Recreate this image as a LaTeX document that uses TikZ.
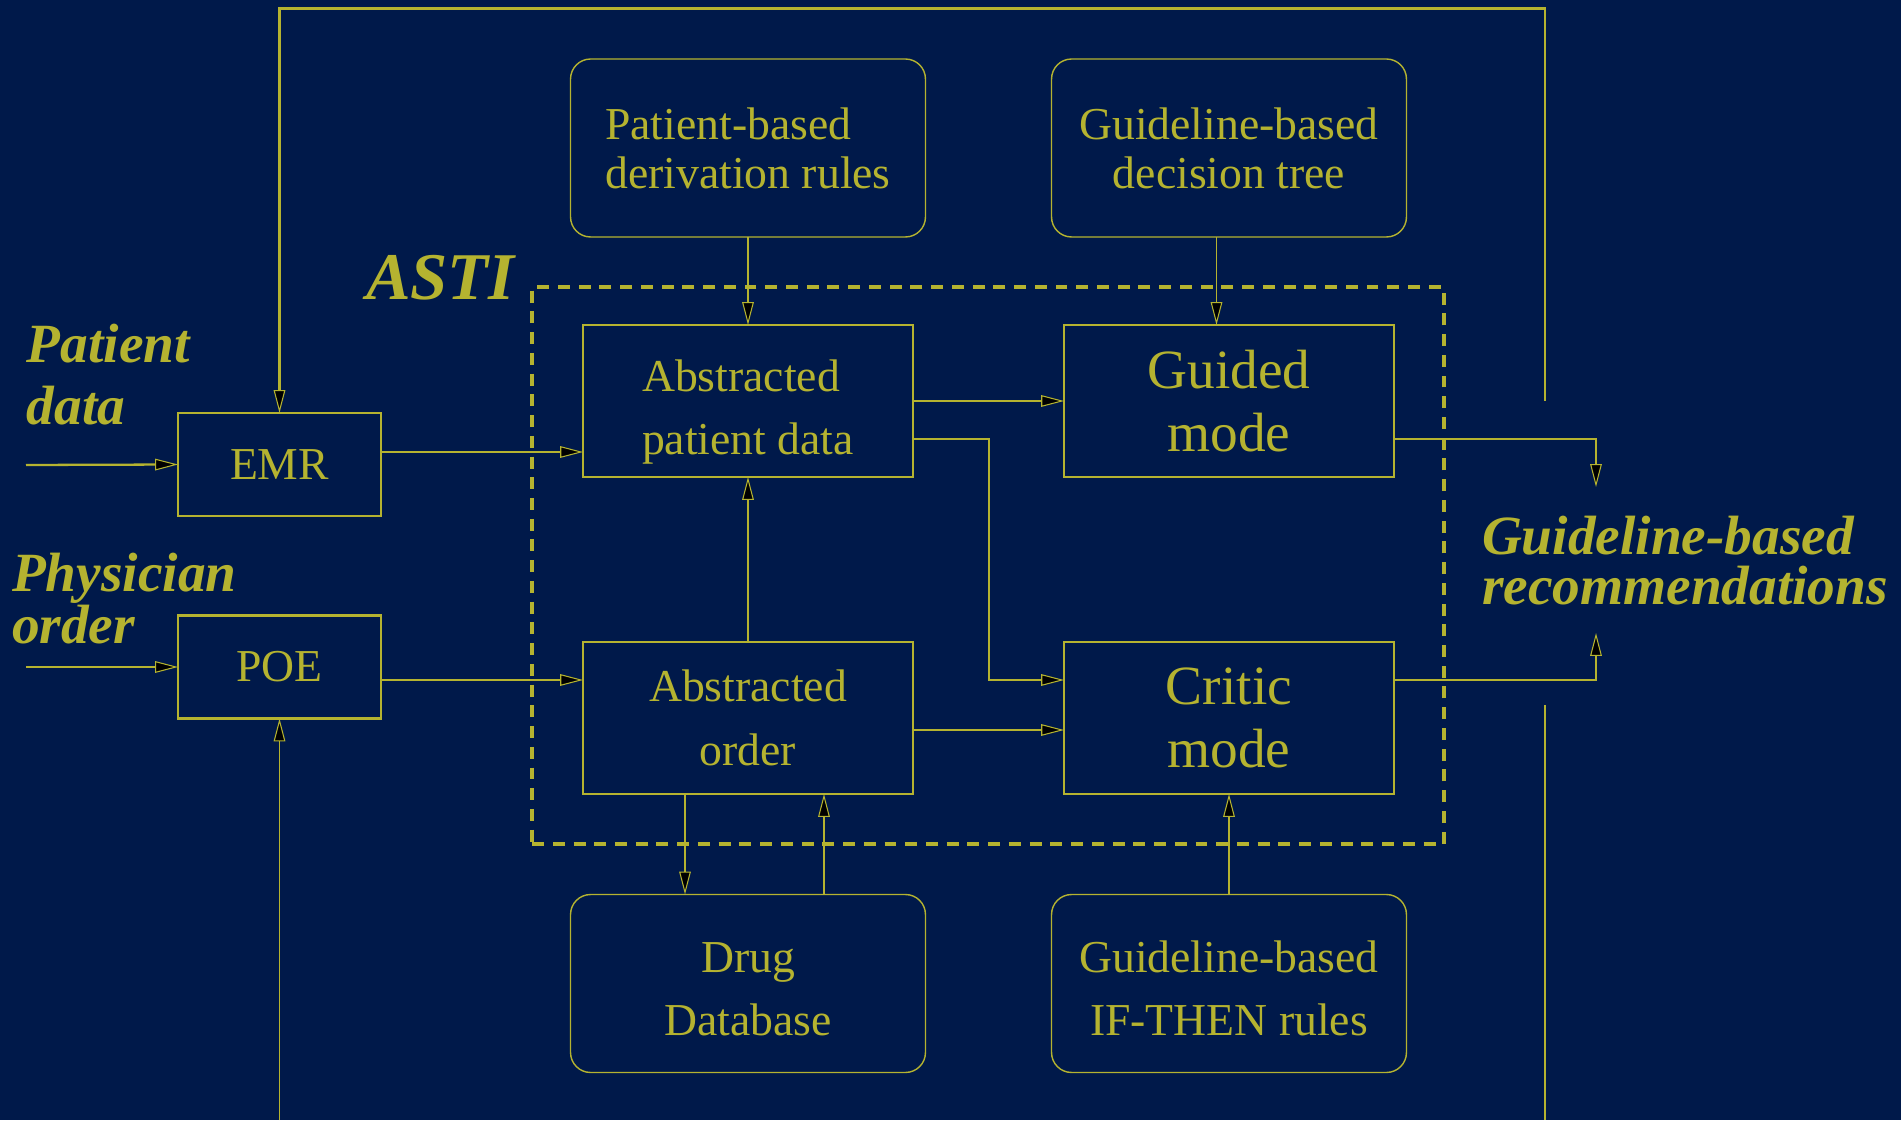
\documentclass[tikz,border=0pt]{standalone}
\usepackage{fontspec}
\setmainfont{Liberation Serif}
\usetikzlibrary{positioning, calc, arrows.meta}
\definecolor{bgnavy}{RGB}{0,25,74}
\definecolor{astiyellow}{RGB}{181,179,48}
\newcommand{\toppad}[1]{\rule{0pt}{#1}}

\begin{document}
\begin{tikzpicture}[x=0.02cm, y=-0.02cm,
    every node/.style={text=astiyellow, outer sep=0pt},
    block/.style={draw=astiyellow, line width=0.8pt, minimum width=6.6cm, minimum height=3.04cm, align=center, font=\fontsize{26}{36}\selectfont},
    modebox/.style={block, font=\fontsize{31.5}{36}\selectfont},
    srcbox/.style={draw=astiyellow, line width=0.8pt, rounded corners=0.4cm, minimum width=7.1cm, minimum height=3.56cm, align=center, font=\fontsize{26}{28}\selectfont},
    iobox/.style={draw=astiyellow, line width=1.5pt, minimum width=4.06cm, minimum height=2.06cm, font=\fontsize{26}{30}\selectfont},
    lbl/.style={font=\fontsize{31.5}{28.5}\selectfont\bfseries\itshape, align=left, inner sep=0pt, anchor=south west},
    link/.style={draw=astiyellow, line width=1.3pt, -{Triangle[length=13pt, width=6.6pt, line width=0.6pt, fill=black]}},
    thinlink/.style={link, line width=0.9pt},
    ]
    % Background
    \fill[bgnavy] (0,0) rectangle (1901,1120);
    % ASTI frame
    \node[draw=astiyellow, line width=2.3pt, dash pattern=on 6.8pt off 5pt, minimum width=18.24cm, minimum height=11.14cm] (asti) at (988,565.5) {};
    \node[lbl, font=\fontsize{38}{40}\selectfont\bfseries\itshape] (astilbl) at (366,300) {ASTI};
    % Knowledge sources
    \node[srcbox, align=left] (rules) at (748,148) {Patient-based\\derivation rules};
    \node[srcbox] (tree) at (1229,148) {Guideline-based\\decision tree};
    \node[srcbox, font=\fontsize{26}{36}\selectfont] (drugdb) at (748,983.5) {\toppad{24pt}Drug\\Database};
    \node[srcbox, font=\fontsize{26}{36}\selectfont] (ifthen) at (1229,983.5) {\toppad{24pt}Guideline-based\\IF-THEN rules};
    % Blocks inside ASTI
    \node[block, align=left] (apd) at (748,401) {\toppad{31pt}Abstracted\\patient data};
    \node[modebox] (guided) at (1229,401) {Guided\\mode};
    \node[block] (ao) at (748,718) {Abstracted\\order};
    \node[modebox] (critic) at (1229,718) {Critic\\mode};
    % Inputs and outputs
    \node[iobox] (emr) at (279.5,464.5) {EMR};
    \node[iobox] (poe) at (279.5,667) {POE};
    \node[lbl, font=\fontsize{31.5}{35.3}\selectfont\bfseries\itshape] (patlbl) at (27,425) {Patient\\data};
    \node[lbl] (ordlbl) at (12,644) {Physician\\order};
    \node[lbl] (recs) at (1482,605) {Guideline-based\\recommendations};

    \coordinate (patin) at (26,465);
    \coordinate (ordin) at (26,667);
    \coordinate (fbA) at (1545,401);
    \coordinate (fbB) at (1545,8.5);
    \coordinate (fbC) at (1545,705);
    \coordinate (fbD) at (1545,1120);
    \coordinate (poein) at (279.5,1120);
    \coordinate (recT) at (1596,487);
    \coordinate (recB) at (1596,633);

    % Feedback loop
    \draw[link] (fbA) -- (fbB) -| (emr.north);
    \draw[draw=astiyellow, line width=1.3pt] (fbC) -- (fbD);
    \draw[thinlink] (poein) -- (poe.south);
    % Inputs
    \draw[link] (patin) -- (emr.west);
    \draw[link] (ordin) -- (poe.west);
    \draw[link] ([yshift=0.25cm]emr.east) -- ([yshift=0.25cm]emr.east -| apd.west);
    \draw[link] ([yshift=-0.26cm]poe.east) -- ([yshift=-0.26cm]poe.east -| ao.west);
    % Knowledge into ASTI
    \draw[thinlink] (rules.south) -- (apd.north);
    \draw[thinlink] ([xshift=-0.25cm]tree.south) -- ([xshift=-0.25cm]tree.south |- guided.north);
    \draw[thinlink] ([xshift=-1.26cm]ao.south) -- ([xshift=-1.26cm]ao.south |- drugdb.north);
    \draw[thinlink] ([xshift=1.52cm]drugdb.north) -- ([xshift=1.52cm]drugdb.north |- ao.south);
    \draw[thinlink] (ifthen.north) -- (critic.south);
    % Inside ASTI
    \draw[link] (apd.east) -- (guided.west);
    \draw[link] ([yshift=-0.76cm]apd.east) -- ++(76,0) |- ([yshift=0.76cm]critic.west);
    \draw[link] ([yshift=-0.24cm]ao.east) -- ([yshift=-0.24cm]critic.west);
    \draw[link] (ao.north) -- (apd.south);
    % Recommendations
    \draw[link] ([yshift=-0.76cm]guided.east) -| (recT);
    \draw[link] ([yshift=0.76cm]critic.east) -| (recB);
\end{tikzpicture}
\end{document}
